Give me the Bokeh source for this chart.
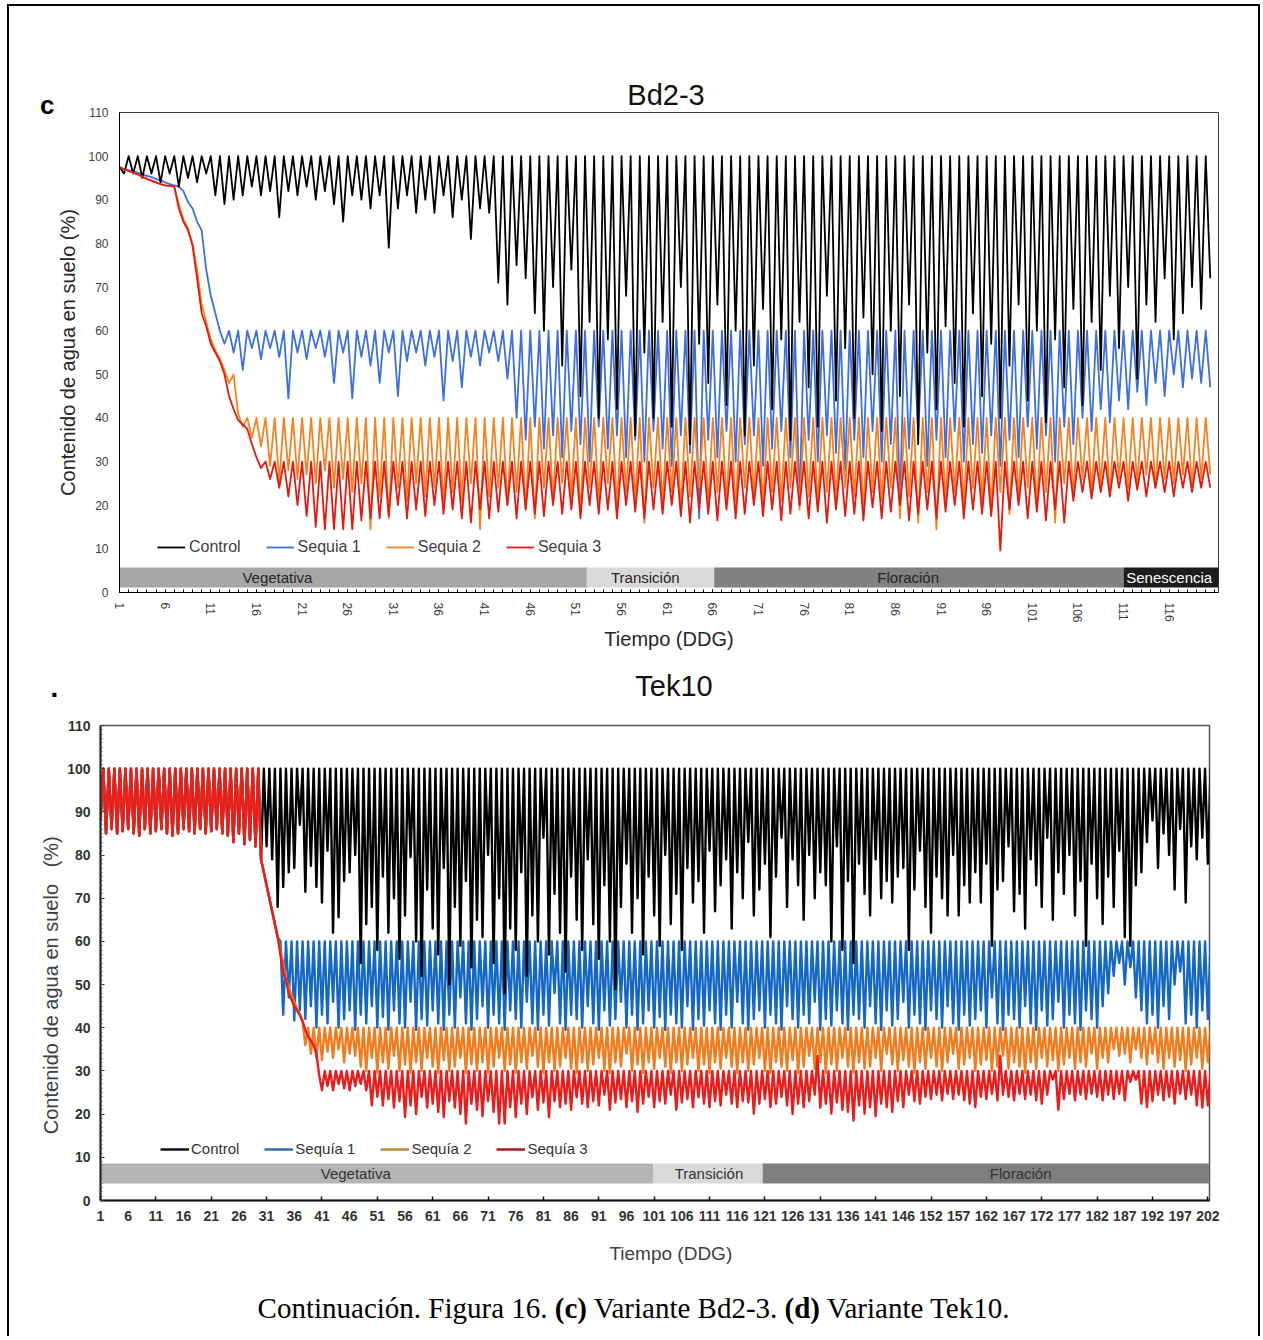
import math
from bokeh.plotting import figure
from bokeh.models import (Range1d, FixedTicker, SingleIntervalTicker, Legend,
                          LegendItem, Div)
from bokeh.layouts import column, row
from bokeh.embed import file_html
from bokeh.resources import INLINE
from bokeh.core.properties import value

SANS = "Liberation Sans"
SERIF = "Liberation Serif"
NBSP = "\u00a0"

# =====================  PANEL c : Bd2-3  =====================
C_DAYS = list(range(1, 121))                 # day of each cycle (peak at day, trough at day+0.5)
C_TICK_DAYS = [1, 6, 11, 16, 21, 26, 31, 36, 41, 46, 51, 56, 61, 66, 71, 76, 81, 86,
               91, 96, 101, 106, 111, 116]
C_MINOR_DAYS = list(range(1, 122))
Y_TICKS = [0, 10, 20, 30, 40, 50, 60, 70, 80, 90, 100, 110]

C_CTRL_HI = [97.5, 100, 100, 100, 100, 100, 100, 100, 100, 100, 100, 100, 100, 100, 100, 100, 100, 100, 100, 100,
             100, 100, 100, 100, 100, 100, 100, 100, 100, 100, 100, 100, 100, 100, 100, 100, 100, 100, 100, 100,
             100, 100, 100, 100, 100, 100, 100, 100, 100, 100, 100, 100, 100, 100, 100, 100, 100, 100, 100, 100,
             100, 100, 100, 100, 100, 100, 100, 100, 100, 100, 100, 100, 100, 100, 100, 100, 100, 100, 100, 100,
             100, 100, 100, 100, 100, 100, 100, 100, 100, 100, 100, 100, 100, 100, 100, 100, 100, 100, 100, 100,
             100, 100, 100, 100, 100, 100, 100, 100, 100, 100, 100, 100, 100, 100, 100, 100, 100, 100, 100, 100]
C_CTRL_LO = [96, 96, 95, 96, 94, 96, 93, 95, 94, 96,
             91, 89, 90, 91, 93, 91, 92, 86, 92, 91,
             93, 90, 92, 89, 85, 91, 90, 88, 91, 79,
             88, 91, 87, 90, 87, 91, 86, 90, 81, 88,
             87, 71, 66, 75, 72, 64, 60, 70, 52, 74,
             45, 62, 40, 58, 42, 68, 36, 55, 40, 62,
             38, 70, 34, 57, 48, 66, 43, 60, 36, 52,
             65, 42, 58, 35, 62, 47, 38, 68, 44, 56,
             40, 63, 50, 37, 60, 45, 66, 34, 55, 42,
             61, 48, 38, 64, 45, 57, 40, 52, 66, 44,
             60, 39, 58, 47, 65, 43, 62, 51, 68, 56,
             70, 49, 66, 62, 72, 58, 64, 70, 65, 72]

C_SEQ1_HI = [97.5, 96.8, 96.2, 95.5, 94.8, 94, 93.3, 92, 88, 83, 68, 60, 60, 60, 60, 60, 60, 60, 60, 60,
             60, 60, 60, 60, 60, 60, 60, 60, 60, 60, 60, 60, 60, 60, 60, 60, 60, 60, 60, 60,
             60, 60, 60, 60, 60, 60, 60, 60, 60, 60, 60, 60, 60, 60, 60, 60, 60, 60, 60, 60,
             60, 60, 60, 60, 60, 60, 60, 60, 60, 60, 60, 60, 60, 60, 60, 60, 60, 60, 60, 60,
             60, 60, 60, 60, 60, 60, 60, 60, 60, 60, 60, 60, 60, 60, 60, 60, 60, 60, 60, 60,
             60, 60, 60, 60, 60, 60, 60, 60, 60, 60, 60, 60, 60, 60, 60, 60, 60, 60, 60, 60]
C_SEQ1_LO = [97, 96.5, 95.8, 95.2, 94.4, 93.6, 93, 89.5, 85, 74,
             64, 57, 55, 51, 56, 53.5, 56, 54, 44.5, 55,
             53.5, 56, 54, 48, 55, 44.5, 54, 52, 48, 55,
             45, 53, 55, 52, 54, 44, 53, 47, 54, 52,
             55, 53, 49, 40, 35, 38, 33, 36, 31, 37,
             34, 30, 38, 33, 36, 31, 35, 30, 37, 33,
             29, 36, 32, 17, 35, 31, 37, 30, 34, 36,
             29, 33, 37, 31, 20, 35, 30, 36, 32, 28,
             35, 31, 37, 30, 34, 20, 33, 36, 29, 35,
             31, 37, 30, 34, 32, 36, 29, 35, 31, 38,
             33, 36, 30, 38, 34, 40, 37, 42, 39, 44,
             42, 46, 43, 48, 45, 50, 47, 49, 48, 47]

C_SEQ2_HI = [97.5, 96.6, 95.8, 94.8, 94, 93.3, 93, 85.5, 80, 66, 58, 53.5, 48, 41, 40, 40, 40, 40, 40, 40,
             40, 40, 40, 40, 40, 40, 40, 40, 40, 40, 40, 40, 40, 40, 40, 40, 40, 40, 40, 40,
             40, 40, 40, 40, 40, 40, 40, 40, 40, 40, 40, 40, 40, 40, 40, 40, 40, 40, 40, 40,
             40, 40, 40, 40, 40, 40, 40, 40, 40, 40, 40, 40, 40, 40, 40, 40, 40, 40, 40, 40,
             40, 40, 40, 40, 40, 40, 40, 40, 40, 40, 40, 40, 40, 40, 40, 40, 40, 40, 40, 40,
             40, 40, 40, 40, 40, 40, 40, 40, 40, 40, 40, 40, 40, 40, 40, 40, 40, 40, 40, 40]
C_SEQ2_LO = [97, 96.2, 95.3, 94.4, 93.6, 93.2, 89, 83.5, 74, 62,
             55.5, 51, 50, 38, 35.5, 33.5, 29, 25.5, 28, 26,
             27, 25, 28, 24, 26, 23, 25, 14.5, 22, 17,
             24, 21, 25, 22, 24, 20, 23, 21, 25, 14.5,
             22, 24, 20, 23, 19, 17, 24, 21, 25, 22,
             18, 24, 21, 25, 20, 23, 21, 16, 24, 20,
             23, 19, 22, 24, 20, 23, 21, 19, 24, 22,
             20, 23, 21, 24, 19, 22, 20, 23, 21, 24,
             22, 19, 23, 21, 24, 17, 22, 16, 23, 14.5,
             21, 23, 20, 24, 21, 19, 23, 18, 22, 24,
             20, 23, 16, 25, 22, 26, 23, 25, 22, 26,
             24, 25, 27, 24, 26, 25, 27, 24, 26, 27]

C_SEQ3_HI = [97.5, 96.6, 95.8, 94.8, 94, 93.3, 93, 85, 79.5, 64, 57, 53, 45, 39.5, 37.5, 31, 30, 30, 30, 30,
             30, 30, 30, 30, 30, 30, 30, 30, 30, 30, 30, 30, 30, 30, 30, 30, 30, 30, 30, 30,
             30, 30, 30, 30, 30, 30, 30, 30, 30, 30, 30, 30, 30, 30, 30, 30, 30, 30, 30, 30,
             30, 30, 30, 30, 30, 30, 30, 30, 30, 30, 30, 30, 30, 30, 30, 30, 30, 30, 30, 30,
             30, 30, 30, 30, 30, 30, 30, 30, 30, 30, 30, 30, 30, 30, 30, 30, 30, 30, 30, 30,
             30, 30, 30, 30, 30, 30, 30, 30, 30, 30, 30, 30, 30, 30, 30, 30, 30, 30, 30, 30]
C_SEQ3_LO = [97, 96.2, 95.3, 94.4, 93.6, 93.2, 88, 83, 72, 61,
             55, 50, 42, 38.5, 34, 28.5, 26, 24, 22, 20,
             17.5, 15, 14.5, 14.5, 14.5, 14.5, 16.5, 17, 17, 17.5,
             20, 17, 19, 17.5, 20, 18, 19, 17, 16, 19,
             17, 18.5, 20, 17, 19, 18, 17.5, 20, 18, 19,
             17, 20, 18, 19, 17, 20, 18.5, 17, 19, 18,
             20, 17.5, 16, 19, 18, 16.5, 19, 17, 18, 20,
             17.5, 19, 16.5, 18, 20, 17, 18.5, 16, 19, 17.5,
             18, 16.5, 19.5, 17, 18.5, 20, 16.5, 18, 19, 17,
             18.5, 20, 17, 19, 18, 17.5, 9.6, 19, 20, 17,
             18.5, 16.5, 19, 16, 21, 23, 21.5, 23, 22, 24,
             21, 23.5, 22, 24, 23, 22, 24, 23, 24, 24]

C_SERIES = ["Control", "Sequia 1", "Sequia 2", "Sequia 3"]
C_PHASES = ["Vegetativa", "Transición", "Floración", "Senescencia"]
C_PHASE_START = [1, 52.2, 66.15, 111.0]
C_PHASE_END = [52.2, 66.15, 111.0, 121.4]

# =====================  PANEL d : Tek10  =====================
D_POS = list(range(0, 201))                  # position on the category axis
D_TICK_POS = list(range(0, 201, 5))
D_TICK_LABELS = ["1", "6", "11", "16", "21", "26", "31", "36", "41", "46", "51", "56", "61", "66",
                 "71", "76", "81", "86", "91", "96", "101", "106", "111", "116", "121", "126", "131",
                 "136", "141", "146", "152", "157", "162", "167", "172", "177", "182", "187", "192",
                 "197", "202"]
D_MARK_POS = list(range(0, 201, 10))

D_EARLY_LO = [88, 85, 86, 85, 85.5, 86, 85, 84.5, 86, 85, 85.5, 86, 85, 84.5, 85, 86, 85.5, 85, 86, 85,
              85.5, 86, 85, 84.5, 83, 85, 82.5, 83.5, 82]
D_EARLY_HI = [100, 100, 100, 100, 100, 100, 100, 100, 100, 100, 100, 100, 100, 100, 100, 100, 100, 100, 100, 100,
              100, 100, 100, 100, 100, 100, 100, 100, 100]

D_CTRL_HI = D_EARLY_HI + [
    100, 100, 100, 100, 100, 100, 100, 100, 100, 100, 100, 100, 100, 100, 100, 100, 100, 100, 100, 100,
    100, 100, 100, 100, 100, 100, 100, 100, 100, 100, 100, 100, 100, 100, 100, 100, 100, 100, 100, 100,
    100, 100, 100, 100, 100, 100, 100, 100, 100, 100, 100, 100, 100, 100, 100, 100, 100, 100, 100, 100,
    100, 100, 100, 100, 100, 100, 100, 100, 100, 100, 100, 100, 100, 100, 100, 100, 100, 100, 100, 100,
    100, 100, 100, 100, 100, 100, 100, 100, 100, 100, 100, 100, 100, 100, 100, 100, 100, 100, 100, 100,
    100, 100, 100, 100, 100, 100, 100, 100, 100, 100, 100, 100, 100, 100, 100, 100, 100, 100, 100, 100,
    100, 100, 100, 100, 100, 100, 100, 100, 100, 100, 100, 100, 100, 100, 100, 100, 100, 100, 100, 100,
    100, 100, 100, 100, 100, 100, 100, 100, 100, 100, 100, 100, 100, 100, 100, 100, 100, 100, 100, 100,
    100, 100, 100, 100, 100, 100, 100, 100, 100, 100, 100, 100]
D_CTRL_LO = D_EARLY_LO + [
    79, 82, 79, 68, 72.6, 76, 77, 87, 71.5, 77.5,
    72.6, 69, 81, 62, 65.6, 74, 76, 80, 55, 64,
    68, 58, 75, 62, 70, 56, 66, 79.5, 60, 52,
    72, 63, 57, 77, 50, 68, 59, 74, 54, 65,
    61, 80, 55, 70, 48, 63, 58, 76, 52, 66,
    60, 84, 57, 71, 62, 53, 75, 65, 58, 79,
    64, 56, 73, 60, 49, 68, 78, 62, 70, 57,
    75, 66, 59, 80, 64, 71, 58, 77, 69, 74,
    62, 81, 67, 73, 79, 63, 76, 70, 83, 66,
    72, 78, 61, 75, 84, 68, 79, 73, 65, 80,
    70, 76, 73, 60, 82, 58, 74, 55, 78, 71,
    66, 79, 70, 74, 69, 75, 77, 58, 72, 81,
    68, 62, 75, 70, 66, 80, 66, 73, 69, 76,
    69, 78, 59, 72, 74, 82, 67, 71, 63, 79,
    73, 68, 84, 65, 76, 71, 80, 66, 74, 59,
    78, 70, 64, 75, 68, 81, 61, 59, 73, 76,
    83, 88, 77, 85, 80, 72, 86, 69, 82, 79,
    84, 78]

D_SEQ1_HI = D_EARLY_HI + [
    76, 70, 64, 60, 60, 60, 60, 60, 60, 60, 60,
    60, 60, 60, 60, 60, 60, 60, 60, 60, 60, 60, 60, 60, 60, 60, 60, 60, 60, 60, 60,
    60, 60, 60, 60, 60, 60, 60, 60, 60, 60, 60, 60, 60, 60, 60, 60, 60, 60, 60, 60,
    60, 60, 60, 60, 60, 60, 60, 60, 60, 60, 60, 60, 60, 60, 60, 60, 60, 60, 60, 60,
    60, 60, 60, 60, 60, 60, 60, 60, 60, 60, 60, 60, 60, 60, 60, 60, 60, 60, 60, 60,
    60, 60, 60, 60, 60, 60, 60, 60, 60, 60, 60, 60, 60, 60, 60, 60, 60, 60, 60, 60,
    60, 60, 60, 60, 60, 60, 60, 60, 60, 60, 60, 60, 60, 60, 60, 60, 60, 60, 60, 60,
    60, 60, 60, 60, 60, 60, 60, 60, 60, 60, 60, 60, 60, 60, 60, 60, 60, 60, 60, 60,
    60, 60, 60, 60, 60, 60, 60, 60, 60, 60, 60, 60, 60, 60, 60, 60, 60, 60, 60, 60,
    60]
D_SEQ1_LO = D_EARLY_LO + [
    79, 73, 67, 61,
    43, 47, 41.7, 44, 42, 45, 40, 43, 41, 46,
    40, 42, 44, 39.5, 43, 41, 45, 40, 42.5, 39.5,
    44, 41, 40, 46, 39.5, 42, 40.5, 44, 41, 39.5,
    43, 40, 47, 41, 39.5, 42, 45, 40, 43, 41,
    39.5, 44, 42, 40, 46, 41, 39.5, 43, 40.5, 48,
    41, 39.5, 43, 42, 40, 45, 41, 39.5, 44, 40.5,
    42, 46, 40, 43, 39.5, 41, 44, 40, 42.5, 39.5,
    43, 41, 40, 45, 39.5, 42, 40.5, 44, 41, 39.5,
    43, 40, 46, 41, 39.5, 42, 44, 40, 43, 41,
    39.5, 45, 42, 40, 43, 41, 46, 39.5, 42, 40.5,
    44, 41, 39.5, 43, 42, 40, 45, 41, 39.5, 44,
    40.5, 42, 46, 40, 43, 41, 39.5, 44, 42, 40,
    45, 41, 39.5, 43, 40.5, 42, 44, 40, 47, 41,
    39.5, 43, 42, 40, 45, 41, 39.5, 44, 40.5, 42,
    46, 40, 43, 41, 39.5, 44, 42, 40, 45, 48,
    52, 55, 50, 54, 47, 44, 41, 43, 40, 45,
    42, 50, 53, 41, 43, 40, 44, 42]

D_SEQ2_HI = D_EARLY_HI + [
    76, 70, 64, 58, 51, 47.5, 44.5, 41.5, 40, 40, 40,
    40, 40, 40, 40, 40, 40, 40, 40, 40, 40, 40, 40, 40, 40, 40, 40, 40, 40, 40, 40,
    40, 40, 40, 40, 40, 40, 40, 40, 40, 40, 40, 40, 40, 40, 40, 40, 40, 40, 40, 40,
    40, 40, 40, 40, 40, 40, 40, 40, 40, 40, 40, 40, 40, 40, 40, 40, 40, 40, 40, 40,
    40, 40, 40, 40, 40, 40, 40, 40, 40, 40, 40, 40, 40, 40, 40, 40, 40, 40, 40, 40,
    40, 40, 40, 40, 40, 40, 40, 40, 40, 40, 40, 40, 40, 40, 40, 40, 40, 40, 40, 40,
    40, 40, 40, 40, 40, 40, 40, 40, 40, 40, 40, 40, 40, 40, 40, 40, 40, 40, 40, 40,
    40, 40, 40, 40, 40, 40, 40, 40, 40, 40, 40, 40, 40, 40, 40, 40, 40, 40, 40, 40,
    40, 40, 40, 40, 40, 40, 40, 40, 40, 40, 40, 40, 40, 40, 40, 40, 40, 40, 40, 40,
    40]
D_SEQ2_LO = D_EARLY_LO + [
    79, 73, 67, 61, 55, 49.5, 46, 43,
    36, 34, 33, 32.5, 34.5, 33, 35, 32, 34, 33.5,
    31, 30, 33, 29.5, 32, 30.5, 33.5, 30, 31.5, 29.5,
    32, 30, 33, 31, 29.5, 32.5, 30, 31, 33, 29.5,
    31.5, 30, 32, 29.5, 31, 33, 30, 31.5, 29.5, 32,
    30.5, 33.5, 31, 29.5, 32, 30, 31, 33, 30.5, 29.5,
    32, 30, 31.5, 33, 30, 29.5, 32, 31, 34, 30,
    31.5, 29.5, 32, 30.5, 33, 31, 29.5, 32, 30, 31.5,
    33, 30, 31.5, 29.5, 32, 30.5, 33, 31, 29.5, 32,
    30, 31.5, 33, 30, 29.5, 32, 31, 30, 32.5, 29.5,
    31, 33.5, 30.5, 32, 29.5, 31.5, 30, 33, 31, 29.5,
    32, 30.5, 31, 33, 30, 34, 31.5, 30, 32.5, 31,
    29.5, 32, 30.5, 33, 31, 30, 32, 34, 30.5, 31.5,
    33, 30, 31.5, 32.5, 30, 31, 33.5, 30.5, 32, 31,
    29.5, 32, 30.5, 33, 31, 32.5, 30, 31.5, 33, 30.5,
    32, 31, 34, 30.5, 33, 32, 35, 33.5, 34, 32,
    35, 33, 31.5, 34, 32, 30.5, 33, 31, 32.5, 30,
    31.5, 33, 30.5, 32]

D_SEQ3_HI = D_EARLY_HI + [
    76, 70, 64, 57, 51, 46.5, 44, 41.5, 38, 36, 29,
    30, 30, 30, 30, 30, 30, 30, 30, 30, 30,
    30, 30, 30, 30, 30, 30, 30, 30, 30, 30,
    30, 30, 30, 30, 30, 30, 30, 30, 30, 30,
    30, 30, 30, 30, 30, 30, 30, 30, 30, 30,
    30, 30, 30, 30, 30, 30, 30, 30, 30, 30,
    30, 30, 30, 30, 30, 30, 30, 30, 30, 30,
    30, 30, 30, 30, 30, 30, 30, 30, 30, 30,
    30, 30, 30, 30, 30, 30, 30, 30, 30, 30,
    30, 30, 30, 30, 30, 30, 30, 30, 30, 33.5,
    30, 30, 30, 30, 30, 30, 30, 30, 30, 30,
    30, 30, 30, 30, 30, 30, 30, 30, 30, 30,
    30, 30, 30, 30, 30, 30, 30, 30, 30, 30,
    30, 30, 33.5, 30, 30, 30, 30, 30, 30, 30,
    30, 30, 30, 30, 30, 30, 30, 30, 30, 30,
    30, 30, 30, 30, 30, 30, 30, 30, 30, 30,
    30, 30, 30, 30, 30, 30, 30, 30, 30, 30,
    30]
D_SEQ3_LO = D_EARLY_LO + [
    79, 73, 67, 61, 53, 48, 45, 43, 39.5, 37, 34,
    25.5, 26.5, 25.5, 27, 26, 25.5, 26.5, 27, 25.5, 22,
    24, 22, 23.5, 21.5, 23, 19.3, 22, 20, 24, 21.5,
    22.4, 20.5, 19.3, 23, 21.5, 20, 17.8, 22.4, 21, 19.5,
    23, 20.5, 17.8, 17.8, 21.6, 19.3, 22.4, 20, 23.9, 21,
    22.7, 19.3, 23, 21.6, 22.4, 21, 23.9, 22.4, 21.6, 23,
    22, 24.5, 21, 22.7, 23.5, 21.6, 23, 20.5, 22.4, 24,
    21.6, 23, 22.4, 24.5, 21, 22.7, 23.5, 21.6, 23.9, 22.4,
    21.6, 23, 22, 24.5, 22.4, 21.6, 23, 22.7, 20.1, 22.4,
    23.5, 21.6, 22.4, 24, 22, 20, 22.4, 21.6, 23, 24.5,
    21.5, 22.4, 20.1, 22.7, 21, 20.5, 18.5, 22, 20.1, 21.6,
    19.5, 22.4, 21.6, 20.5, 23, 21.6, 24.5, 23, 22.4, 24,
    23.5, 24.5, 23.2, 24.7, 23.5, 24.5, 23.2, 22.4, 21.6, 24,
    23.5, 24.7, 23.2, 24.5, 24, 23.2, 24.7, 23.5, 24.5, 23.2,
    22.4, 24.5, 28, 21, 23.5, 24.7, 23.2, 24.5, 23.5, 24.7,
    24, 23.2, 24.5, 23.5, 24.7, 23.2, 27.5, 28, 22.4, 21.6,
    23, 24.5, 23.2, 24, 22.4, 24.7, 23.5, 24.5, 22, 21.5,
    22]

D_SERIES = ["Control", "Sequía 1", "Sequía 2", "Sequía 3"]
D_PHASES = ["Vegetativa", "Transición", "Floración"]
D_PHASE_START = [0, 99.8, 119.6]
D_PHASE_END = [99.8, 119.6, 200.3]

# ---------------- styles / layout constants ----------------
C_COLORS = ["#000000", "#3b6fe2", "#f5821f", "#e8180f"]
D_COLORS = ["#000000", "#1468c4", "#f47b1c", "#ee1b1b"]
D_LEG_COLORS = ["#111111", "#2e6fae", "#c4843e", "#a8182a"]
C_PHASE_FILL = ["#a6a6a6", "#d9d9d9", "#808080", "#1c1c1c"]
C_PHASE_TEXT = ["#262626", "#262626", "#262626", "#ffffff"]
C_PHASE_TX = [18.3, 58.6, 87.4, 116.0]
D_PHASE_FILL = ["#b4b4b4", "#d9d9d9", "#7f7f7f"]
D_PHASE_TX = [46.1, 109.9, 166.2]


def zig_c(days, hi, lo):
    xs, ys = [], []
    for d, h, l in zip(days, hi, lo):
        xs.extend([d, d + 0.5])
        ys.extend([h, l])
    return xs, ys


def zig_d(pos, hi, lo):
    xs, ys = [], []
    for i, h, l in zip(pos, hi, lo):
        xs.extend([i, i + 0.5])
        ys.extend([l, h])
    return xs, ys


def abs_text(left, top, text, size, weight="normal", width=None, color="#000000", font=SANS):
    w = "" if width is None else "width:%dpx;text-align:center;" % width
    return ('<span style="position:absolute;left:%.1fpx;top:%.1fpx;%sfont-family:\'%s\';'
            'font-weight:%s;font-size:%s;line-height:%s;color:%s;white-space:nowrap;">%s</span>'
            % (left, top, w, font, weight, size, size, color, text))


# ======================= figure c =======================
pc = figure(width=1204, height=554, x_range=Range1d(1, 121.4), y_range=Range1d(0, 110),
            output_backend="svg", toolbar_location=None,
            min_border_left=65, min_border_right=40, min_border_top=6, min_border_bottom=68,
            background_fill_color="white", border_fill_color="white")
pc.grid.visible = False
pc.outline_line_color = "#3a3a3a"
pc.outline_line_width = 1

ax = pc.xaxis[0]
ax.ticker = FixedTicker(ticks=C_TICK_DAYS, minor_ticks=C_MINOR_DAYS)
ax.major_label_orientation = "vertical"
ax.major_label_text_font = SANS
ax.major_label_text_font_size = "12px"
ax.major_label_text_color = "#404040"
ax.major_label_standoff = 10
ax.major_tick_in = 3
ax.major_tick_out = 0
ax.minor_tick_in = 3
ax.minor_tick_out = 0
ax.axis_line_color = "#000000"
ax.major_tick_line_color = "#000000"
ax.minor_tick_line_color = "#000000"
ax.axis_label = "Tiempo (DDG)"
ax.axis_label_text_font = SANS
ax.axis_label_text_font_size = "20px"
ax.axis_label_text_font_style = "normal"
ax.axis_label_text_color = "#262626"
ax.axis_label_standoff = 2

ay = pc.yaxis[0]
ay.ticker = FixedTicker(ticks=Y_TICKS)
ay.major_tick_line_color = None
ay.minor_tick_line_color = None
ay.major_tick_in = 0
ay.major_tick_out = 0
ay.minor_tick_in = 0
ay.minor_tick_out = 0
ay.major_label_standoff = 11
ay.major_label_text_font = SANS
ay.major_label_text_font_size = "12px"
ay.major_label_text_color = "#404040"
ay.axis_line_color = "#000000"
ay.axis_label = "Contenido de agua en suelo (%)"
ay.axis_label_text_font = SANS
ay.axis_label_text_font_size = "20px"
ay.axis_label_text_font_style = "normal"
ay.axis_label_text_color = "#262626"
ay.axis_label_standoff = 6

# phase band
pc.quad(left=C_PHASE_START, right=C_PHASE_END, bottom=1.15, top=5.75,
        fill_color=C_PHASE_FILL, line_color=None)
pc.text(x=C_PHASE_TX, y=3.45, text=C_PHASES, text_font=value(SANS), text_font_size="15px",
        text_color=C_PHASE_TEXT, text_align="center", text_baseline="middle")

xs, ys = zig_c(C_DAYS, C_SEQ1_HI, C_SEQ1_LO)
rc1 = pc.line(xs, ys, line_color=C_COLORS[1], line_width=1.8, line_join="round")
xs, ys = zig_c(C_DAYS, C_CTRL_HI, C_CTRL_LO)
rc0 = pc.line(xs, ys, line_color=C_COLORS[0], line_width=1.8, line_join="round")
xs, ys = zig_c(C_DAYS, C_SEQ2_HI, C_SEQ2_LO)
rc2 = pc.line(xs, ys, line_color=C_COLORS[2], line_width=1.8, line_join="round")
xs, ys = zig_c(C_DAYS, C_SEQ3_HI, C_SEQ3_LO)
rc3 = pc.line(xs, ys, line_color=C_COLORS[3], line_width=1.8, line_join="round")

leg_c = Legend(items=[LegendItem(label=C_SERIES[k], renderers=[r])
                      for k, r in enumerate([rc0, rc1, rc2, rc3])],
               orientation="horizontal", location=(38, 36), glyph_width=28, glyph_height=16,
               label_height=16, label_standoff=4, spacing=25, padding=0, margin=0,
               border_line_color=None, background_fill_alpha=0,
               label_text_font=SANS, label_text_font_size="16px", label_text_color="#404040")
pc.add_layout(leg_c)

div_c = Div(width=45, height=654, margin=0,
            text='<div style="position:relative;width:45px;height:654px;">'
                 + abs_text(31, 86, "c", "26px", weight="bold") + '</div>')
hdr_c = Div(width=1204, height=100, margin=0,
            text='<div style="position:relative;width:1204px;height:100px;">'
                 + abs_text(412, 74.5, "Bd2-3", "29px", width=400, color="#111111") + '</div>')

# ======================= figure d =======================
pdd = figure(width=1249, height=570, x_range=Range1d(0, 200.3), y_range=Range1d(0, 110),
             output_backend="svg", toolbar_location=None,
             min_border_left=91, min_border_right=49, min_border_top=13, min_border_bottom=82,
             background_fill_color="white", border_fill_color="white")
pdd.grid.visible = False
pdd.outline_line_color = "#555555"
pdd.outline_line_width = 1.5

bx = pdd.xaxis[0]
bx.ticker = FixedTicker(ticks=D_TICK_POS, minor_ticks=D_MARK_POS)
bx.major_label_overrides = dict(zip(D_TICK_POS, D_TICK_LABELS))
bx.major_tick_line_color = None
bx.major_tick_in = 0
bx.major_tick_out = 0
bx.minor_tick_in = 4
bx.minor_tick_out = 0
bx.minor_tick_line_color = "#111111"
bx.minor_tick_line_width = 1.5
bx.axis_line_color = "#111111"
bx.axis_line_width = 2
bx.major_label_standoff = 10
bx.major_label_text_font = SANS
bx.major_label_text_font_size = "14px"
bx.major_label_text_font_style = "bold"
bx.major_label_text_color = "#333333"
bx.axis_label = NBSP * 6 + "Tiempo (DDG)"
bx.axis_label_text_font = SANS
bx.axis_label_text_font_size = "19px"
bx.axis_label_text_font_style = "normal"
bx.axis_label_text_color = "#404040"
bx.axis_label_standoff = 19

by = pdd.yaxis[0]
by.ticker = SingleIntervalTicker(interval=10, num_minor_ticks=10)
by.major_tick_in = 4
by.major_tick_out = 0
by.minor_tick_in = 2
by.minor_tick_out = 0
by.major_tick_line_color = "#333333"
by.minor_tick_line_color = "#555555"
by.axis_line_color = "#222222"
by.axis_line_width = 2
by.major_label_standoff = 10
by.major_label_text_font = SANS
by.major_label_text_font_size = "14px"
by.major_label_text_font_style = "bold"
by.major_label_text_color = "#333333"
by.axis_label = "Contenido de agua en suelo" + NBSP * 3 + "(%)" + NBSP * 8
by.axis_label_text_font = SANS
by.axis_label_text_font_size = "20px"
by.axis_label_text_font_style = "normal"
by.axis_label_text_color = "#404040"
by.axis_label_standoff = 2

pdd.quad(left=D_PHASE_START, right=D_PHASE_END, bottom=3.95, top=8.55,
         fill_color=D_PHASE_FILL, line_color=None)
pdd.text(x=D_PHASE_TX, y=6.25, text=D_PHASES, text_font=value(SANS), text_font_size="15px",
         text_color="#333333", text_align="center", text_baseline="middle")

xs, ys = zig_d(D_POS, D_SEQ1_HI, D_SEQ1_LO)
pdd.line(xs, ys, line_color=D_COLORS[1], line_width=2.4, line_join="round")
xs, ys = zig_d(D_POS, D_CTRL_HI, D_CTRL_LO)
pdd.line(xs, ys, line_color=D_COLORS[0], line_width=2.4, line_join="round")
xs, ys = zig_d(D_POS, D_SEQ2_HI, D_SEQ2_LO)
pdd.line(xs, ys, line_color=D_COLORS[2], line_width=2.4, line_join="round")
xs, ys = zig_d(D_POS, D_SEQ3_HI, D_SEQ3_LO)
pdd.line(xs, ys, line_color=D_COLORS[3], line_width=2.4, line_join="round")

# legend swatches (drawn outside the visible range, only used for the legend)
leg_r = [pdd.line(x=[-50, -40], y=[-50, -50], line_color=c, line_width=2.5) for c in D_LEG_COLORS]
leg_d = Legend(items=[LegendItem(label=D_SERIES[k], renderers=[r]) for k, r in enumerate(leg_r)],
               orientation="horizontal", location=(60, 43), glyph_width=29, glyph_height=16,
               label_height=16, label_standoff=2, spacing=25, padding=0, margin=0,
               border_line_color=None, background_fill_alpha=0,
               label_text_font=SANS, label_text_font_size="15px", label_text_color="#333333")
pdd.add_layout(leg_d)

hdr_d = Div(width=1249, height=52, margin=0,
            text='<div style="position:relative;width:1249px;height:52px;">'
                 + abs_text(41.6, 14.3, ".", "28px", weight="bold")
                 + abs_text(465, 11.5, "Tek10", "29px", width=400, color="#111111")
                 + '</div>')

cap = Div(width=1249, height=54, margin=0,
          text=('<div style="width:1249px;height:54px;text-align:center;'
                'font-family:\'Liberation Serif\',serif;font-size:29px;line-height:52px;color:#000;">'
                'Continuación. Figura 16. <b>(c)</b> Variante Bd2-3. <b>(d)</b> Variante Tek10.</div>'))

layout = column(row(div_c, column(hdr_c, pc)), hdr_d, pdd, cap,
                margin=(4, 0, 0, 7),
                styles={"border": "2px solid #000000", "border-bottom": "none"})

open("out.html", "w").write(file_html(layout, INLINE, title="Figura 16"))
